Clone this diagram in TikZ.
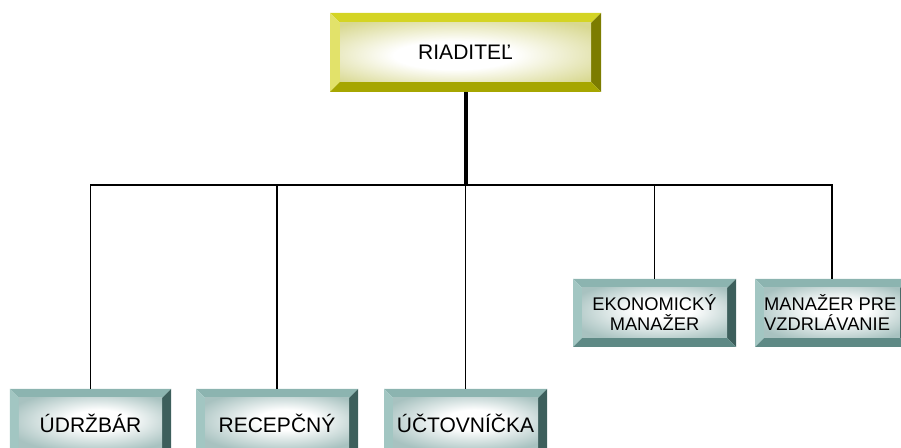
\documentclass[tikz,border=0pt]{standalone}
\usepackage{fontspec}
\setmainfont{Liberation Sans}
\definecolor{tealtop}{HTML}{8CB4B0}
\definecolor{tealleft}{HTML}{A2C6C2}
\definecolor{tealright}{HTML}{3D5F5C}
\definecolor{tealbot}{HTML}{5E8985}
\definecolor{tealface}{HTML}{A8C2C0}
\definecolor{yeltop}{HTML}{D4D424}
\definecolor{yelleft}{HTML}{E2E26A}
\definecolor{yelright}{HTML}{7C7C00}
\definecolor{yelbot}{HTML}{A6A600}
\definecolor{yelface}{HTML}{D8D890}
\pgfdeclareradialshading{tealrad}{\pgfpoint{4bp}{4bp}}{color(0bp)=(white); color(10bp)=(white); color(32bp)=(tealface); color(50bp)=(tealface)}
\pgfdeclareradialshading{yelrad}{\pgfpoint{-3bp}{-3bp}}{color(0bp)=(white); color(12bp)=(white); color(34bp)=(yelface); color(50bp)=(yelface)}
\newcommand\mybevel[6]{%
  \path (path picture bounding box.north west) coordinate (bNW)
        (path picture bounding box.north east) coordinate (bNE)
        (path picture bounding box.south west) coordinate (bSW)
        (path picture bounding box.south east) coordinate (bSE);
  \fill[#1] (bNW) -- (bNE) -- ([xshift=-#6,yshift=-#6]bNE) -- ([xshift=#6,yshift=-#6]bNW) -- cycle;
  \fill[#2] (bNW) -- ([xshift=#6,yshift=-#6]bNW) -- ([xshift=#6,yshift=#6]bSW) -- (bSW) -- cycle;
  \fill[#3] (bNE) -- (bSE) -- ([xshift=-#6,yshift=#6]bSE) -- ([xshift=-#6,yshift=-#6]bNE) -- cycle;
  \fill[#4] (bSW) -- ([xshift=#6,yshift=#6]bSW) -- ([xshift=-#6,yshift=#6]bSE) -- (bSE) -- cycle;
  \shade[shading=#5] ([xshift=#6,yshift=-#6]bNW) rectangle ([xshift=-#6,yshift=#6]bSE);
}
\tikzset{
  boxtext/.style={font=\fontsize{21bp}{21bp}\selectfont, text=black, align=center},
  smalltext/.style={font=\fontsize{18.3bp}{20bp}\selectfont},
  tealbox/.style={rectangle, inner sep=0pt, outer sep=0pt, minimum height=68bp, boxtext,
    path picture={\mybevel{tealtop}{tealleft}{tealright}{tealbot}{tealrad}{9bp}}},
  yelbox/.style={rectangle, inner sep=0pt, outer sep=0pt, minimum width=271bp, minimum height=79bp, boxtext,
    path picture={\mybevel{yeltop}{yelleft}{yelright}{yelbot}{yelrad}{10bp}}},
  thinline/.style={draw=black, line width=1.5bp},
  thickline/.style={draw=black, line width=4bp}
}
\begin{document}
\begin{tikzpicture}[x=1bp,y=-1bp]
\useasboundingbox (0,0) rectangle (901,448);
\clip (0,0) rectangle (901,448);
\node[yelbox] (top) at (465.5,52.5) {RIADITEĽ};
\node[tealbox, minimum width=161bp] (b1) at (90.5,423) {ÚDRŽBÁR};
\node[tealbox, minimum width=162bp] (b2) at (277,423) {RECEPČNÝ};
\node[tealbox, minimum width=163bp] (b3) at (465.5,423) {ÚČTOVNÍČKA};
\node[tealbox, smalltext, minimum width=163bp] (m1) at (654.5,313) {EKONOMICKÝ\\MANAŽER};
\node[tealbox, minimum width=154bp] (m2) at (832,313) {};
\node[boxtext, smalltext, align=left, anchor=west, inner sep=0pt] (m2t) at (764,313) {MANAŽER PRE\\VZDRLÁVANIE};
\coordinate (hub) at (465.5,185);
\draw[thinline] (b1.north) |- (hub);
\draw[thinline] (b2.north) |- (hub);
\draw[thinline] (b3.north) -- (hub);
\draw[thinline] (m1.north) |- (hub);
\draw[thinline] (m2.north) |- (hub);
\draw[thickline] (top.south) -- (hub);
\end{tikzpicture}
\end{document}
